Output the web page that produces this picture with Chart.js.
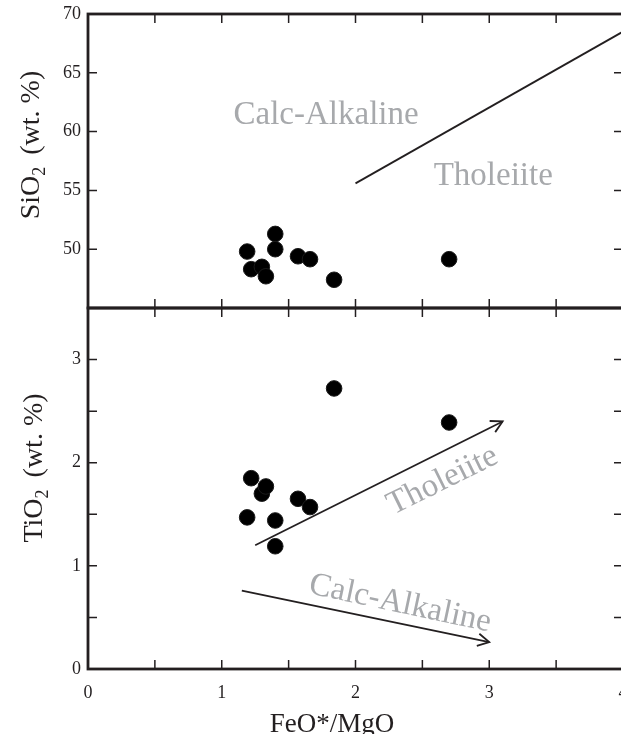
<!DOCTYPE html>
<html>
<head>
<meta charset="utf-8">
<script src="https://cdn.jsdelivr.net/npm/chart.js@4.4.0/dist/chart.umd.min.js"></script>
<style>
  html, body { margin: 0; padding: 0; background: #fff; overflow: hidden; }
  #wrap { position: relative; width: 640px; height: 734px; }
</style>
</head>
<body>
<div id="wrap"><canvas id="myChart" width="640" height="734"></canvas></div>
<script>
// samples (FeO*/MgO ratio with SiO2 and TiO2 in wt. %)
const feoMgo = [1.19, 1.22, 1.30, 1.33, 1.40, 1.40, 1.57, 1.66, 1.84, 2.70];
const sio2   = [49.8, 48.3, 48.5, 47.7, 51.3, 50.0, 49.4, 49.15, 47.4, 49.15];
const tio2   = [1.47, 1.85, 1.70, 1.77, 1.44, 1.19, 1.65, 1.57, 2.72, 2.39];

// tholeiite / calc-alkaline divide (top) and trend arrows (bottom)
const divideX  = [2, 4];
const divideSi = [55.6, 68.5];
const tholX  = [1.25, 3.1];
const tholTi = [1.2, 2.4];
const calcX  = [1.15, 3.0];
const calcTi = [0.76, 0.26];

// tick labels
const xTickLabels  = [0, 1, 2, 3, 4];
const siTickLabels = [50, 55, 60, 65, 70];
const tiTickLabels = [0, 1, 2, 3];

const serif = '"Liberation Serif", "Times New Roman", serif';
const ink = '#231f20';
const grey = '#a7a9ac';

function pts(xs, ys){
    return xs.map((x, i) => ({x: x, y: ys[i]}))
}

// region names, placed in data units
const regionLabels = [
    {text: 'Calc-Alkaline', x: 1.78, y: 60.66, axis: 'ySi', angle: 0},
    {text: 'Tholeiite',     x: 3.03, y: 55.5,  axis: 'ySi', angle: 0},
    {text: 'Tholeiite',     x: 2.68, y: 1.75,  axis: 'yTi', angle: -26.3},
    {text: 'Calc-Alkaline', x: 2.32, y: 0.55,  axis: 'yTi', angle: 12},
];

// frames, inward ticks, arrow heads, labels and axis titles
const decorations = {
    id: 'decorations',
    afterDatasetsDraw(chart){
        const ctx = chart.ctx;
        const xs = chart.scales.x;
        const left = chart.chartArea.left, right = chart.chartArea.right;
        ctx.save();

        // inward tick marks
        ctx.strokeStyle = ink;
        ctx.lineWidth = 1.5;
        const tl = 9;
        ['ySi', 'yTi'].forEach(id => {
            const ys = chart.scales[id];
            ctx.beginPath();
            xs.ticks.forEach(t => {
                if (t.value <= xs.min || t.value >= xs.max) return;
                const px = xs.getPixelForValue(t.value);
                ctx.moveTo(px, ys.top); ctx.lineTo(px, ys.top + tl);
                ctx.moveTo(px, ys.bottom); ctx.lineTo(px, ys.bottom - tl);
            });
            ys.ticks.forEach(t => {
                if (t.value <= ys.min || t.value >= ys.max) return;
                const py = ys.getPixelForValue(t.value);
                ctx.moveTo(left, py); ctx.lineTo(left + tl, py);
                ctx.moveTo(right, py); ctx.lineTo(right - tl, py);
            });
            ctx.stroke();
        });

        // panel frames
        ctx.lineWidth = 2.8;
        ['ySi', 'yTi'].forEach(id => {
            const ys = chart.scales[id];
            ctx.strokeRect(left, ys.top, right - left, ys.bottom - ys.top);
        });

        // open arrow heads at the end of the trend lines
        ctx.lineWidth = 1.8;
        chart.data.datasets.forEach((ds, i) => {
            if (!ds.arrow) return;
            const meta = chart.getDatasetMeta(i);
            const a = meta.data[meta.data.length - 2], b = meta.data[meta.data.length - 1];
            const ang = Math.atan2(b.y - a.y, b.x - a.x);
            const L = 13;
            ctx.beginPath();
            ctx.moveTo(b.x - L * Math.cos(ang - 0.5), b.y - L * Math.sin(ang - 0.5));
            ctx.lineTo(b.x, b.y);
            ctx.lineTo(b.x - L * Math.cos(ang + 0.5), b.y - L * Math.sin(ang + 0.5));
            ctx.stroke();
        });

        // region names
        ctx.fillStyle = grey;
        ctx.font = '33px ' + serif;
        ctx.textAlign = 'center';
        ctx.textBaseline = 'alphabetic';
        regionLabels.forEach(l => {
            const px = xs.getPixelForValue(l.x);
            const py = chart.scales[l.axis].getPixelForValue(l.y);
            ctx.save();
            ctx.translate(px, py);
            ctx.rotate(l.angle * Math.PI / 180);
            ctx.fillText(l.text, 0, 0);
            ctx.restore();
        });

        // x title
        ctx.fillStyle = ink;
        ctx.font = '27px ' + serif;
        ctx.fillText('FeO*/MgO', 332, 732);

        // y titles with subscript 2
        function yTitle(el, cx, cy){
            const big = '28px ' + serif, small = '18px ' + serif;
            ctx.save();
            ctx.translate(cx, cy);
            ctx.rotate(-Math.PI / 2);
            ctx.textAlign = 'left';
            ctx.font = big;
            const w1 = ctx.measureText(el).width;
            const w3 = ctx.measureText(' (wt. %)').width;
            ctx.font = small;
            const w2 = ctx.measureText('2').width + 5;
            let x0 = -(w1 + w2 + w3) / 2;
            ctx.font = big;
            ctx.fillText(el, x0, 0);
            ctx.font = small;
            ctx.fillText('2', x0 + w1, 6);
            ctx.font = big;
            ctx.fillText(' (wt. %)', x0 + w1 + w2, 0);
            ctx.restore();
        }
        yTitle('SiO', 39, 145);
        yTitle('TiO', 42, 468);

        ctx.restore();
    }
};

const ctx = document.getElementById('myChart');
const dot = {
    pointRadius: 7.8,
    pointBackgroundColor: '#000',
    pointBorderColor: '#1a1a1a',
    pointBorderWidth: 1,
    showLine: false
};
const line = {
    showLine: true,
    pointRadius: 0,
    borderColor: ink,
    borderWidth: 1.8,
    fill: false
};

const myChart = new Chart(ctx, {
    type: 'scatter',
    data: {
        datasets: [
            Object.assign({label: 'SiO2', data: pts(feoMgo, sio2), yAxisID: 'ySi'}, dot),
            Object.assign({label: 'TiO2', data: pts(feoMgo, tio2), yAxisID: 'yTi'}, dot),
            Object.assign({label: 'divide', data: pts(divideX, divideSi), yAxisID: 'ySi'}, line),
            Object.assign({label: 'tholeiite trend', data: pts(tholX, tholTi), yAxisID: 'yTi', arrow: true}, line),
            Object.assign({label: 'calc-alkaline trend', data: pts(calcX, calcTi), yAxisID: 'yTi', arrow: true}, line),
        ]
    },
    options: {
        responsive: false,
        animation: false,
        devicePixelRatio: 1,
        layout: { padding: {top: 14, right: 17, left: 0, bottom: 0} },
        plugins: { legend: {display: false}, tooltip: {enabled: false} },
        scales: {
            x: {
                type: 'linear', position: 'bottom', min: 0, max: 4,
                grid: {display: false}, border: {display: false},
                ticks: {
                    stepSize: 0.5, autoSkip: false, maxRotation: 0, padding: 5,
                    color: ink, font: {family: serif, size: 18},
                    callback: v => xTickLabels.includes(v) ? String(v) : ''
                },
                afterFit: s => { s.height = 65 }
            },
            yTi: {
                type: 'linear', position: 'left', stack: 'panels', stackWeight: 361,
                min: 0, max: 3.5,
                grid: {display: false}, border: {display: false},
                ticks: {
                    stepSize: 0.5, autoSkip: false, padding: -1,
                    color: ink, font: {family: serif, size: 18},
                    callback: v => tiTickLabels.includes(v) ? String(v) : ''
                },
                afterFit: s => { s.width = 88 }
            },
            ySi: {
                type: 'linear', position: 'left', stack: 'panels', stackWeight: 294,
                min: 45, max: 70,
                grid: {display: false}, border: {display: false},
                ticks: {
                    stepSize: 5, autoSkip: false, padding: -1,
                    color: ink, font: {family: serif, size: 18},
                    callback: v => siTickLabels.includes(v) ? String(v) : ''
                },
                afterFit: s => { s.width = 88 }
            }
        }
    },
    plugins: [decorations]
});
</script>
</body>
</html>
